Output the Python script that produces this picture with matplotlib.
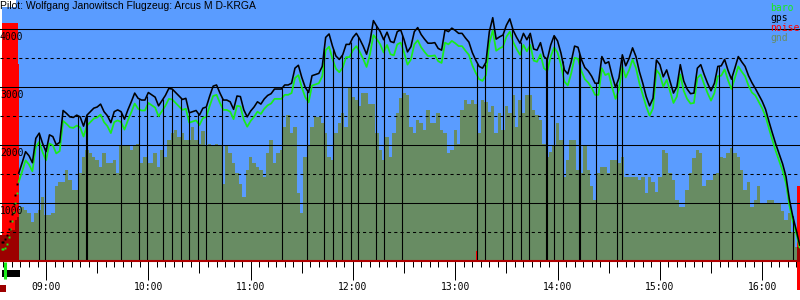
"""
Barogram of a glider flight: baro / gps altitude, ground elevation and engine noise.
"""

import matplotlib

matplotlib.use("Agg")

import matplotlib.pyplot as plt
import matplotlib.transforms as mtransforms
import numpy as np
from matplotlib.patches import Rectangle

# ---------------------------------------------------------------- data
TITLE = "Pilot: Wolfgang Janowitsch Flugzeug: Arcus M D-KRGA"

# fixes sampled every 2 minutes from 08:44
fix_start = "08:44"
fix_step_min = 2

gps_alt = [
    1520, 1700, 1890, 1820, 1700, 2120, 2210, 2030, 1890, 2180,
    2150, 2010, 2050, 2600, 2550, 2490, 2480, 2520, 2490, 2330,
    2520, 2580, 2640, 2660, 2710, 2580, 2510, 2390, 2580, 2610,
    2580, 2450, 2610, 2750, 2900, 2810, 2780, 2780, 2910, 2870,
    2830, 2680, 2770, 2860, 2980, 2970, 2910, 2850, 2790, 2810,
    2560, 2580, 2600, 2520, 2640, 2660, 2850, 3020, 3040, 2900,
    2780, 2780, 2750, 2620, 2850, 2840, 2610, 2490, 2590, 2660,
    2750, 2710, 2800, 2860, 2890, 2970, 2970, 2970, 3040, 3040,
    3070, 3330, 3380, 3170, 3000, 2910, 3200, 3220, 3240, 3360,
    3860, 3920, 3710, 3540, 3480, 3560, 3740, 3740, 3860, 3930,
    3830, 3710, 3570, 3790, 4150, 4050, 3960, 3820, 3950, 3790,
    3770, 3960, 3990, 3820, 3610, 3700, 3960, 4030, 3910, 3830,
    3760, 3760, 3770, 3670, 3640, 3990, 3960, 4020, 3980, 3930,
    3930, 3850, 3780, 3600, 3470, 3360, 3330, 3430, 3960, 4200,
    3830, 3870, 3900, 4070, 4180, 3980, 3860, 3760, 3930, 3820,
    3930, 3660, 3640, 3770, 3530, 3480, 3730, 3890, 3800, 3590,
    3300, 3230, 3440, 3710, 3690, 3480, 3340, 3280, 3190, 3070,
    3070, 3530, 3410, 3440, 3200, 3000, 3160, 3560, 3370, 3500,
    3680, 3530, 3270, 3070, 2840, 2680, 2810, 3470, 3390, 3180,
    3300, 3100, 2900, 3010, 3390, 3110, 2970, 2890, 2900, 3330,
    3390, 3220, 3070, 2940, 3070, 3360, 3370, 3480, 3290, 3140,
    3330, 3530, 3440, 3360, 3200, 3080, 2980, 2870, 2760, 2620,
    2410, 2210, 2020, 1850, 1680, 1460, 1060, 770, 540, 280,
]

baro_alt = [
    1370, 1550, 1740, 1670, 1550, 1970, 2060, 1880, 1740, 2030,
    2000, 1860, 1900, 2420, 2370, 2310, 2300, 2340, 2310, 2150,
    2340, 2400, 2460, 2480, 2530, 2400, 2330, 2210, 2400, 2430,
    2400, 2270, 2430, 2570, 2720, 2630, 2600, 2600, 2730, 2690,
    2650, 2500, 2590, 2680, 2800, 2790, 2730, 2670, 2610, 2630,
    2390, 2410, 2430, 2350, 2470, 2490, 2680, 2850, 2870, 2730,
    2610, 2610, 2580, 2450, 2680, 2670, 2440, 2320, 2420, 2490,
    2580, 2540, 2630, 2690, 2720, 2800, 2800, 2800, 2870, 2870,
    2900, 3160, 3210, 3000, 2830, 2740, 3030, 3050, 3070, 3190,
    3640, 3700, 3490, 3320, 3260, 3340, 3520, 3520, 3640, 3710,
    3610, 3490, 3350, 3570, 3900, 3830, 3740, 3600, 3730, 3570,
    3550, 3740, 3770, 3600, 3390, 3480, 3740, 3810, 3690, 3610,
    3540, 3540, 3550, 3450, 3420, 3770, 3740, 3800, 3760, 3710,
    3710, 3630, 3560, 3380, 3250, 3140, 3110, 3210, 3760, 3980,
    3630, 3670, 3700, 3870, 3960, 3780, 3660, 3560, 3730, 3620,
    3730, 3460, 3440, 3570, 3330, 3280, 3530, 3690, 3600, 3390,
    3100, 3030, 3240, 3510, 3490, 3280, 3140, 3080, 2990, 2870,
    2870, 3330, 3210, 3240, 3000, 2800, 2960, 3360, 3170, 3300,
    3480, 3330, 3070, 2870, 2670, 2510, 2640, 3300, 3220, 3010,
    3130, 2930, 2730, 2840, 3220, 2940, 2800, 2720, 2730, 3160,
    3220, 3050, 2900, 2770, 2900, 3190, 3200, 3310, 3120, 2970,
    3160, 3360, 3270, 3190, 3030, 2910, 2860, 2750, 2640, 2500,
    2290, 2090, 1900, 1730, 1560, 1340, 960, 690, 480, 240,
]

gnd_alt = [
    910, 940, 890, 830, 680, 830, 890, 1110, 800, 800,
    830, 1290, 1370, 1370, 1570, 1400, 1230, 1230, 1520, 1800,
    1920, 1860, 1800, 1750, 1630, 1860, 1690, 1690, 1750, 1520,
    1980, 2010, 2010, 1920, 1980, 2030, 1690, 1800, 1690, 1690,
    1860, 1630, 1920, 1800, 2090, 2210, 2260, 2150, 2210, 2090,
    2090, 2320, 2090, 2030, 2240, 1980, 2030, 1980, 2030, 1980,
    1340, 1980, 1860, 1690, 1520, 1340, 1110, 1570, 1800, 1690,
    1630, 1570, 1460, 1860, 2090, 1690, 1860, 1920, 2320, 2520,
    2210, 2320, 1170, 830, 1800, 1980, 2320, 2490, 2490, 2380,
    2210, 1800, 1750, 2210, 2380, 2550, 2320, 3010, 2840, 2780,
    2670, 2900, 2900, 2720, 2720, 2210, 1920, 1750, 2150, 1800,
    2210, 2550, 2810, 2900, 2870, 2320, 2210, 2440, 2380, 2260,
    2610, 2380, 2380, 2550, 2260, 2210, 1860, 1920, 2260, 2030,
    2610, 2780, 2720, 2780, 2720, 2210, 2780, 2750, 2580, 2670,
    2210, 2550, 2260, 2670, 2550, 2870, 2320, 2780, 2550, 2870,
    2870, 2610, 2520, 2440, 2030, 1800, 1890, 1980, 2380, 2090,
    1460, 1750, 2090, 2090, 1570, 1520, 1980, 1570, 1290, 1060,
    1520, 1630, 1630, 1520, 1750, 1750, 1690, 1800, 1460, 1460,
    1460, 1460, 1400, 1460, 1170, 1460, 1370, 1200, 1460, 1920,
    1860, 1520, 1400, 1060, 940, 940, 1230, 1520, 1780, 1920,
    1860, 1290, 1400, 1400, 1490, 1520, 1800, 1780, 1860, 1950,
    1860, 1800, 1570, 1230, 1370, 940, 1060, 1290, 1000, 1000,
    1060, 1060, 1000, 1000, 860, 710, 830, 510, 250, 250,
]

# engine climb, logged as sparse points before the first 2-min fix
climb_times = ["08:34", "08:35", "08:36", "08:37", "08:38",
               "08:39", "08:40", "08:41", "08:42", "08:43"]
climb_gps = [340, 340, 380, 450, 560, 700, 820, 990, 1140, 1330]
climb_baro = [210, 210, 230, 300, 420, 560, 700, 850, 1000, 1180]

# ground while the engine is running
engine_gnd_times = ["08:33", "08:36", "08:39", "08:41", "08:42",
                    "08:43", "08:44"]
engine_gnd_alt = [450, 450, 540, 540, 710, 770, 430]
end_gnd_times = ["16:20:30", "16:22:12"]
end_gnd_alt = [250, 250]

# engine noise level (drawn on the altitude scale)
noise_times = ["08:34:12", "08:43:36", "08:44:06", "13:11:54",
               "13:12:48", "16:20:42", "16:22:12"]
noise_level = [4110, 3410, 0, 180, 0, 1290, 1290]

log_start = "08:34:12"
view_start = "08:33:00"
view_end = "16:22:12"

# timeline marks under the axis
engine_run = ("08:34:12", "08:44:42")
takeoff_mark = "08:36:12"
start_mark = ("08:33:00", "08:36:30")
landing_mark = ("16:20:42", "16:22:12")

# vertical marks down from the gps trace
mark_times = [
    "08:56:06", "08:59:12", "09:18:54", "09:23:36", "09:24:12",
    "09:44:00", "09:54:18", "09:59:12", "10:08:48", "10:14:06",
    "10:18:54", "10:23:54", "10:29:06", "10:33:48", "10:43:24",
    "11:18:36", "11:33:18", "11:43:12", "11:48:30", "11:53:48",
    "11:58:42", "12:03:12", "12:13:24", "12:18:24", "12:29:00",
    "13:13:00", "13:17:36", "13:28:12", "13:33:30", "13:38:18",
    "13:43:06", "13:53:06", "13:53:48", "13:57:54", "14:03:00",
    "14:12:36", "14:13:12", "14:22:42", "14:34:42", "14:37:36",
    "15:34:54", "15:42:30", "16:17:54",
]

alt_labels = [1000, 2000, 3000, 4000]
alt_grid_solid = [1000, 2000, 3000, 4000]
alt_grid_dashed = [500, 1500, 2500, 3500]
alt_top = 4505

legend_items = ["baro", "gps", "noise", "gnd"]

# ---------------------------------------------------------------- style
BLUE = "#5a9cff"
GREEN = "#19ec19"
RED = "#ff0000"
DARK_RED = "#9c0000"
GND = "#688c63"
AXIS_RED = "#b00000"
MONO = "DejaVu Sans Mono"


def to_min(stamp):
    """HH:MM[:SS] -> minutes after midnight."""
    parts = [int(p) for p in stamp.split(":")]
    while len(parts) < 3:
        parts.append(0)
    return parts[0] * 60 + parts[1] + parts[2] / 60.0


def tmin(stamps):
    return np.array([to_min(s) for s in stamps])


fix_t = to_min(fix_start) + fix_step_min * np.arange(len(gps_alt))
x0, x1 = to_min(view_start), to_min(view_end)

fig = plt.figure(figsize=(8, 3), dpi=100)
ax = fig.add_axes([0, 38.7 / 300, 1, 261.3 / 300])
ax.set_facecolor("white")
ax.set_xlim(x0, x1)
ax.set_ylim(0, alt_top)

ax.axvspan(to_min(log_start), x1, color=BLUE, lw=0, zorder=0)

# ground and noise
ax.fill_between(fix_t, gnd_alt, step="mid", color=GND, lw=0, zorder=1)
ax.fill_between(tmin(noise_times), noise_level, step="post",
                color=RED, lw=0, zorder=1.1)
ax.fill_between(tmin(engine_gnd_times), engine_gnd_alt, step="post",
                color=DARK_RED, lw=0, zorder=1.2)
ax.fill_between(tmin(end_gnd_times), end_gnd_alt, step="post",
                color=DARK_RED, lw=0, zorder=1.2)

# altitude grid
for value in alt_grid_solid:
    ax.axhline(value, color="black", lw=0.75, zorder=1.5)
for value in alt_grid_dashed:
    ax.axhline(value, color="black", lw=0.75, dashes=(3, 3), zorder=1.5)

# traces
ax.plot(fix_t, baro_alt, color=GREEN, lw=1.25, zorder=2)
ax.plot(fix_t, gps_alt, color="black", lw=1.15, zorder=2.2)
ax.plot(tmin(climb_times), climb_baro, ls="none", marker="s", ms=1.4,
        mew=0, color=GREEN, zorder=2)
ax.plot(tmin(climb_times), climb_gps, ls="none", marker="s", ms=1.4,
        mew=0, color="black", zorder=2.2)

marks = tmin(mark_times)
ax.vlines(marks, 0, np.interp(marks, fix_t, gps_alt),
          color="black", lw=0.8, zorder=2.3)

# altitude labels inside the plot
for value in alt_labels:
    ax.text(x0, value - 40, str(value), ha="left", va="top",
            family=MONO, fontsize=7, color="black", zorder=5)

# title and legend
ax.text(0, 1 - 9.3 / 261.3, TITLE, transform=ax.transAxes,
        ha="left", va="baseline", family="Liberation Sans",
        fontsize=7.5, color="black", zorder=5)
ax.add_patch(Rectangle((0, 1 - 7 / 261.3), 16 / 800, 7 / 261.3,
                       transform=ax.transAxes, color="white", lw=0,
                       zorder=0.5))
for k, (label, color) in enumerate(
        zip(legend_items, [GREEN, "black", RED, GND])):
    ax.text(770 / 800, 1 - (10.7 + 10 * k) / 261.3, label,
            transform=ax.transAxes, ha="left", va="baseline",
            family=MONO, fontsize=7, color=color, zorder=5)

# axes frame and time ticks
for side in ["top", "left", "right"]:
    ax.spines[side].set_visible(False)
ax.spines["bottom"].set_color(AXIS_RED)
ax.spines["bottom"].set_linewidth(1.5)
ax.spines["bottom"].set_zorder(4)
ax.set_yticks([])

hours = np.arange(9, 17) * 60
ax.set_xticks(hours)
ax.set_xticklabels([f"{h // 60:02d}:00" for h in hours],
                   family=MONO, fontsize=7)
ax.set_xticks(np.arange(515, x1, 5), minor=True)
ax.tick_params(axis="x", which="major", length=13.7, width=0.72,
               color="black", pad=1)
ax.tick_params(axis="x", which="minor", length=4.3, width=0.72,
               color="black")

half = ax.secondary_xaxis("bottom")
half.set_xticks(np.arange(570, x1, 60))
half.tick_params(length=8.6, width=0.72, color="black",
                 labelbottom=False)
half.spines["bottom"].set_visible(False)

# timeline marks under the axis
trans = mtransforms.blended_transform_factory(ax.transData, ax.transAxes)
t_a, t_b = to_min(engine_run[0]), to_min(engine_run[1])
ax.add_patch(Rectangle((t_a, -0.060), t_b - t_a, 0.027, transform=trans,
                       color="black", lw=0, clip_on=False))
t_k = to_min(takeoff_mark)
ax.plot([t_k, t_k], [-0.004, -0.068], transform=trans, color=GREEN,
        lw=2.2, solid_capstyle="butt", clip_on=False)
t_a, t_b = to_min(start_mark[0]), to_min(start_mark[1])
ax.add_patch(Rectangle((t_a, -0.1186), t_b - t_a, 0.0276, transform=trans,
                       color=DARK_RED, lw=0, clip_on=False))
t_a, t_b = to_min(landing_mark[0]), to_min(landing_mark[1])
ax.add_patch(Rectangle((t_a, -0.111), t_b - t_a, 0.111, transform=trans,
                       color=RED, lw=0, clip_on=False))

fig.savefig("out.png", dpi=100)
plt.close(fig)
